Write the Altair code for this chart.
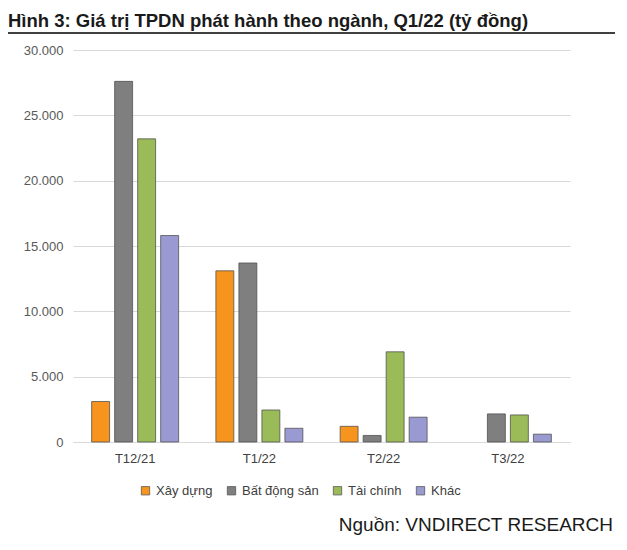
import altair as alt
import pandas as pd

months = ["T12/21", "T1/22", "T2/22", "T3/22"]
series = ["Xây dựng", "Bất động sản", "Tài chính", "Khác"]
colors = ["#F7941D", "#7F7F7F", "#9BBB59", "#9A9AD2"]
xay_dung = [3100, 13100, 1200, None]
bat_dong_san = [27600, 13700, 500, 2150]
tai_chinh = [23200, 2450, 6900, 2070]
khac = [15800, 1050, 1900, 600]
y_ticks = [0, 5000, 10000, 15000, 20000, 25000, 30000]
title_text = "Hình 3: Giá trị TPDN phát hành theo ngành, Q1/22 (tỷ đồng)"
source_text = "Nguồn: VNDIRECT RESEARCH"

rows = []
for name, vals in zip(series, [xay_dung, bat_dong_san, tai_chinh, khac]):
    for m, v in zip(months, vals):
        if v is not None:
            rows.append({"month": m, "series": name, "value": v})
df = pd.DataFrame(rows)

FONT = "Liberation Sans"
W, H = 497, 392

bars = alt.Chart(df).mark_bar(stroke="#4d4d4d", strokeWidth=0.9, strokeOpacity=0.85).encode(
    x=alt.X("month:N", sort=months,
            scale=alt.Scale(paddingInner=0.3, paddingOuter=0.15),
            axis=alt.Axis(title=None, labelAngle=0, ticks=False, domain=True,
                          domainColor="#D9D9D9", labelColor="#404040",
                          labelFontSize=13, labelPadding=10, labelFont=FONT)),
    xOffset=alt.XOffset("series:N", sort=series,
                        scale=alt.Scale(domain=series, paddingInner=0.22, paddingOuter=0)),
    y=alt.Y("value:Q", scale=alt.Scale(domain=[0, 30000], nice=False),
            axis=alt.Axis(title=None, values=y_ticks, ticks=False, domain=False,
                          gridColor="#D9D9D9", labelColor="#595959", labelFontSize=13,
                          labelPadding=10, labelFont=FONT,
                          labelExpr="replace(format(datum.value, ','), ',', '.')")),
    color=alt.Color("series:N", sort=series,
                    scale=alt.Scale(domain=series, range=colors),
                    legend=alt.Legend(title=None, orient="none", direction="horizontal",
                                      legendX=66, legendY=434, symbolType="square",
                                      symbolSize=70, symbolStrokeColor="#595959",
                                      symbolStrokeWidth=0.8, labelFontSize=13,
                                      labelColor="#404040", labelFont=FONT,
                                      labelOffset=4, columnPadding=12)),
)

one = alt.Data(values=[{"k": 1}])

title = alt.Chart(one).mark_text(
    align="left", baseline="alphabetic", fontSize=18.5, fontWeight="bold",
    font=FONT, color="#1a1a1a"
).encode(x=alt.value(-65), y=alt.value(-23), text=alt.value(title_text))

rule = alt.Chart(one).mark_rule(color="#000000", strokeWidth=1.3).encode(
    x=alt.value(-65), x2=alt.value(542), y=alt.value(-17))

source = alt.Chart(one).mark_text(
    align="right", baseline="alphabetic", fontSize=19, font=FONT, color="#1a1a1a"
).encode(x=alt.value(540), y=alt.value(481), text=alt.value(source_text))

chart = alt.layer(bars, title, rule, source).properties(
    width=W, height=H,
    autosize=alt.AutoSizeParams(type="none"),
    padding={"left": 65, "top": 42, "right": 46, "bottom": 98},
    background="white",
).configure_view(stroke=None)

chart.save("out.html", embed_options={"renderer": "svg", "actions": False})
